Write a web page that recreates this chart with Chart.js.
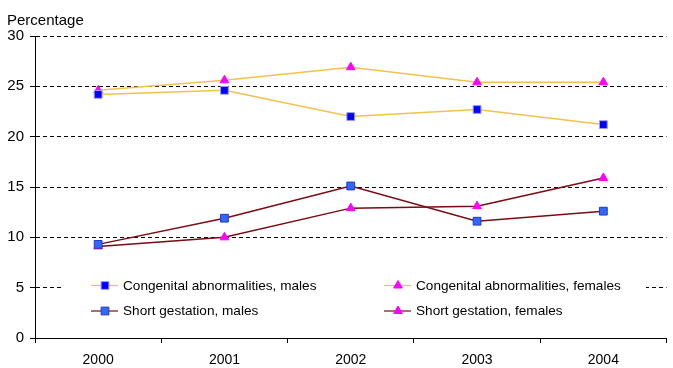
<!DOCTYPE html>
<html>
<head>
<meta charset="utf-8">
<script src="https://cdn.jsdelivr.net/npm/chart.js@4"></script>
<style>
  html, body { margin: 0; padding: 0; background: #fff; }
  #wrap { width: 673px; height: 368px; }
</style>
</head>
<body>
<div id="wrap"><canvas id="chart" width="673" height="368"></canvas></div>
<script>
// Data
const years = ['2000', '2001', '2002', '2003', '2004'];
const congenitalMales = [24.2, 24.6, 22.0, 22.7, 21.2];
const congenitalFemales = [24.6, 25.6, 26.9, 25.4, 25.4];
const shortGestationMales = [9.3, 11.9, 15.1, 11.6, 12.6];
const shortGestationFemales = [9.1, 10.0, 12.9, 13.1, 15.9];
const yTicks = [0, 5, 10, 15, 20, 25, 30];

const FONT = "'Liberation Sans', Arial, sans-serif";

// Legend drawn inside the plot area, on a white box, two columns
const insideLegend = {
    id: 'insideLegend',
    afterDatasetsDraw(chart) {
        const ctx = chart.ctx;
        ctx.save();
        ctx.fillStyle = '#fff';
        ctx.fillRect(62, 264, 584, 62);
        ctx.font = '13.6px ' + FONT;
        ctx.textBaseline = 'middle';
        ctx.textAlign = 'left';
        const cols = [91, 384];
        const rows = [285.5, 311];
        chart.data.datasets.forEach((ds, i) => {
            const x = cols[i % 2];
            const y = rows[Math.floor(i / 2)];
            ctx.strokeStyle = ds.borderColor;
            ctx.lineWidth = 1.2;
            ctx.beginPath();
            ctx.moveTo(x, y);
            ctx.lineTo(x + 27, y);
            ctx.stroke();
            ctx.fillStyle = ds.pointBackgroundColor;
            ctx.strokeStyle = ds.pointBorderColor;
            ctx.lineWidth = ds.pointBorderWidth;
            Chart.helpers.drawPoint(ctx, {
                pointStyle: ds.pointStyle,
                radius: ds.pointRadius,
                borderWidth: ds.pointBorderWidth,
                rotation: 0
            }, x + 14, y);
            ctx.fillStyle = '#000';
            ctx.fillText(ds.label, x + 32, y + 0.5);
        });
        ctx.restore();
    }
};

// "Percentage" axis caption above the y axis
const yCaption = {
    id: 'yCaption',
    afterDraw(chart) {
        const ctx = chart.ctx;
        ctx.save();
        ctx.font = '15px ' + FONT;
        ctx.fillStyle = '#000';
        ctx.textBaseline = 'alphabetic';
        ctx.textAlign = 'left';
        ctx.fillText('Percentage', 7, 25);
        ctx.restore();
    }
};

new Chart(document.getElementById('chart').getContext('2d'), {
    type: 'line',
    data: {
        labels: years,
        datasets: [
            {
                label: 'Congenital abnormalities, males',
                data: congenitalMales,
                borderColor: '#F2C14E',
                borderWidth: 1.5,
                pointStyle: 'rect',
                pointRadius: 5.5,
                pointBackgroundColor: '#0000FF',
                pointBorderColor: '#9999FF',
                pointBorderWidth: 1
            },
            {
                label: 'Congenital abnormalities, females',
                data: congenitalFemales,
                borderColor: '#F2C14E',
                borderWidth: 1.5,
                pointStyle: 'triangle',
                pointRadius: 5,
                pointBackgroundColor: '#FF00FF',
                pointBorderColor: '#FF00FF',
                pointBorderWidth: 1
            },
            {
                label: 'Short gestation, males',
                data: shortGestationMales,
                borderColor: '#7A0A14',
                borderWidth: 1.5,
                pointStyle: 'rect',
                pointRadius: 5.5,
                pointBackgroundColor: '#3366FF',
                pointBorderColor: '#1F3FBF',
                pointBorderWidth: 1
            },
            {
                label: 'Short gestation, females',
                data: shortGestationFemales,
                borderColor: '#7A0A14',
                borderWidth: 1.5,
                pointStyle: 'triangle',
                pointRadius: 5,
                pointBackgroundColor: '#FF00FF',
                pointBorderColor: '#FF00FF',
                pointBorderWidth: 1
            }
        ]
    },
    options: {
        responsive: false,
        animation: false,
        layout: { padding: { top: 36, right: 2, left: 0, bottom: 0 } },
        plugins: {
            legend: { display: false },
            title: { display: false },
            tooltip: { enabled: false }
        },
        elements: { line: { tension: 0 } },
        scales: {
            x: {
                type: 'category',
                offset: true,
                grid: {
                    display: true,
                    offset: true,
                    drawOnChartArea: false,
                    drawTicks: true,
                    tickLength: 5,
                    color: '#000'
                },
                border: { display: true, color: '#000', width: 1 },
                ticks: {
                    color: '#000',
                    padding: 9,
                    maxRotation: 0,
                    font: { family: FONT, size: 14 }
                },
                afterFit(scale) { scale.height = 30; }
            },
            y: {
                min: 0,
                max: 30,
                afterBuildTicks(scale) {
                    scale.ticks = yTicks.map(v => ({ value: v }));
                },
                grid: {
                    display: true,
                    color: '#000',
                    lineWidth: 1,
                    drawTicks: true,
                    tickLength: 5,
                    tickColor: '#000'
                },
                border: { display: true, color: '#000', width: 1, dash: [4, 3] },
                ticks: {
                    color: '#000',
                    padding: 6,
                    font: { family: FONT, size: 15 }
                },
                afterFit(scale) { scale.width = 35; }
            }
        }
    },
    plugins: [insideLegend, yCaption]
});
</script>
</body>
</html>
